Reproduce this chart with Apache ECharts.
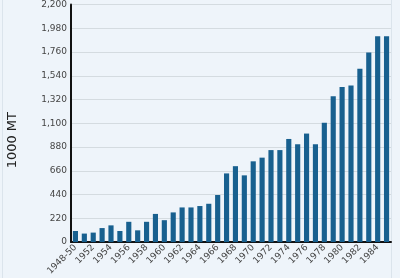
<!DOCTYPE html>
<html>
<head>
<meta charset="utf-8">
<script src="https://cdn.jsdelivr.net/npm/echarts@6/dist/echarts.min.js"></script>
<style>
  html, body { margin: 0; padding: 0; background: #eef4fa; }
  #chart { width: 400px; height: 278px; }
</style>
</head>
<body>
<div id="chart"></div>
<script>
// categories on the x axis
var years = ['1948-50'];
for (var y = 1951; y <= 1985; y++) years.push(String(y));

// production, 1000 MT
var production = [103, 79, 88, 130, 155, 103, 188, 109, 188, 261,
  203, 275, 321, 321, 334, 355, 436, 636, 703, 618,
  748, 782, 852, 852, 955, 906, 1005, 906, 1105, 1351,
  1436, 1451, 1605, 1755, 1905, 1905];

var yMax = 2200;
var yStep = 220;

var myChart = echarts.init(document.getElementById('chart'));

var option = {
  backgroundColor: '#eef4fa',
  animation: false,
  // faint panel edge + the axis title, placed a bit below centre like the original
  graphic: [
    {
      type: 'rect', z: -1, silent: true,
      shape: { x: 2.5, y: -2, width: 389, height: 290 },
      style: { fill: 'none', stroke: '#dbe4ec', lineWidth: 1 }
    },
    {
      type: 'text', left: 6, top: 112,
      rotation: Math.PI / 2,
      style: { text: '1000 MT', fontSize: 13, fill: '#222', fontFamily: 'DejaVu Sans' }
    }
  ],
  grid: { left: 71, right: 9, top: 4, bottom: 31 },
  xAxis: {
    type: 'category',
    data: years,
    axisLine: { lineStyle: { color: '#111', width: 2 } },
    axisTick: { show: false },
    axisLabel: {
      interval: 1,
      rotate: 45,
      fontSize: 9,
      color: '#444',
      margin: 4,
      fontFamily: 'DejaVu Sans'
    }
  },
  yAxis: {
    type: 'value',
    min: 0,
    max: yMax,
    interval: yStep,
    axisLine: { show: true, lineStyle: { color: '#111', width: 2 } },
    axisTick: { show: false },
    axisLabel: {
      fontSize: 9,
      color: '#444',
      margin: 4,
      fontFamily: 'DejaVu Sans',
      formatter: function (v) { return v.toLocaleString('en-US'); }
    },
    splitLine: { lineStyle: { color: '#d4dbe0', width: 1 } }
  },
  series: [{
    type: 'bar',
    data: production,
    barCategoryGap: '42%',
    itemStyle: { color: '#18608f' }
  }]
};

myChart.setOption(option);
</script>
</body>
</html>
